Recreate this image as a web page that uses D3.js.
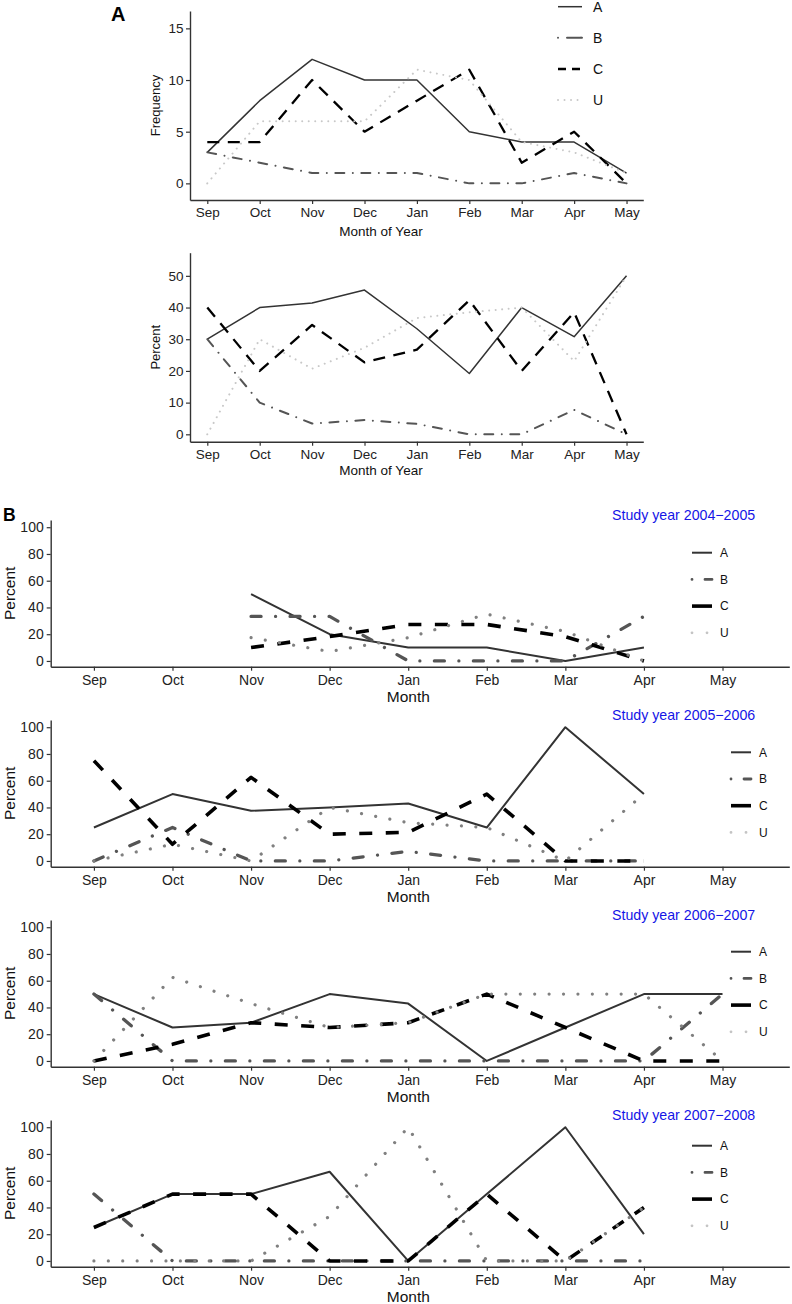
<!DOCTYPE html>
<html><head><meta charset="utf-8">
<script src="https://cdn.jsdelivr.net/npm/d3@7"></script>
<style>body{margin:0;background:#fff}svg{display:block}text{font-family:"Liberation Sans",Arial,sans-serif}</style>
</head><body>
<script>
// ---------- DATA ----------
const months = ["Sep","Oct","Nov","Dec","Jan","Feb","Mar","Apr","May"];
const types = ["A","B","C","U"];

// Panel A, frequency
const freqA = [3,8,12,10,10,5,4,4,1];
const freqB = [3,2,1,1,1,0,0,1,0];
const freqC = [4,4,10,5,8,11,2,5,0];
const freqU = [0,6,6,6,11,10,4,3,1];
// Panel A, percent
const pctA = [30,40,41.4,45.5,33.3,19.2,40,30.8,50];
const pctB = [30,10,3.4,4.5,3.3,0,0,7.7,0];
const pctC = [40,20,34.5,22.7,26.7,42.3,20,38.5,0];
const pctU = [0,30,20.7,27.3,36.7,38.5,40,23.1,50];

// Panel B, by study year (percent)
const studyYears = ["Study year 2004\u22122005","Study year 2005\u22122006","Study year 2006\u22122007","Study year 2007\u22122008"];
const y0405A = [null,null,50,20,10,10,0,10,null];
const y0405B = [null,null,33.3,33.3,0,0,0,33.3,null];
const y0405C = [null,null,10,18.2,27.3,27.3,18.2,0,null];
const y0405U = [null,null,17.4,7,17.4,35,22,0,null];

const y0506A = [25,50,37.5,40,42.9,25,100,50,null];
const y0506B = [0,25,0,0,7.1,0,0,0,null];
const y0506C = [75,12.5,62.5,20,21.4,50,0,0,null];
const y0506U = [0,12.5,0,40,28.6,25,0,50,null];

const y0607A = [50,25,28.6,50,42.9,0,25,50,50];
const y0607B = [50,0,0,0,0,0,0,0,50];
const y0607C = [0,12.5,28.6,25,28.6,50,25,0,0];
const y0607U = [0,62.5,42.9,25,28.6,50,50,50,0];

const y0708A = [25,50,50,66.7,0,50,100,20,null];
const y0708B = [50,0,0,0,0,0,0,0,null];
const y0708C = [25,50,50,0,0,50,0,40,null];
const y0708U = [0,0,0,33.3,100,0,0,40,null];

const freqTicks = [0,5,10,15];
const pctTicks = [0,10,20,30,40,50];
const bTicks = [0,20,40,60,80,100];

// ---------- LAYOUT / STYLE ----------
const W = 792, H = 1304;
const svg = d3.select("body").append("svg").attr("width", W).attr("height", H);

const topStyle = {
  A:{stroke:"#333", w:1.5, dash:null, cap:"butt"},
  B:{stroke:"#555", w:2, dash:"9 8.5 0.01 8.5", cap:"round"},
  C:{stroke:"#000", w:2.3, dash:"12 8.5", cap:"butt"},
  U:{stroke:"#c8c8c8", w:2, dash:"0.01 6.5", cap:"round"}
};
const botStyle = {
  A:{stroke:"#333", w:2, dash:null, cap:"butt"},
  B:{stroke:"#555", w:3.3, dash:"10 14.5 0.01 14.5", cap:"round"},
  C:{stroke:"#000", w:3.6, dash:"13 13.5", cap:"butt"},
  U:{stroke:"#808080", w:3.2, dash:"0.01 14.4", cap:"round"}
};
const botLegendU = "#c4c4c4";

function styleAxis(g, fs){
  g.selectAll("path.domain").attr("stroke","#333").attr("stroke-width",1.4);
  g.selectAll(".tick line").attr("stroke","#333").attr("stroke-width",1.2);
  g.selectAll(".tick text").attr("fill","#222").style("font-size",fs+"px").style("font-family",'"Liberation Sans",Arial,sans-serif');
}
function drawLine(g, x, y, vals, st){
  const line = d3.line().defined(d => d != null).x((d,i)=>x(i)).y(d=>y(d));
  g.append("path").datum(vals).attr("d", line).attr("fill","none")
    .attr("stroke", st.stroke).attr("stroke-width", st.w)
    .attr("stroke-dasharray", st.dash).attr("stroke-linecap", st.cap).attr("stroke-linejoin","round");
}

// ---------- TOP PANELS ----------
function topPanel(yTop, yBot, domain, ticks, series, ylab, xlabY){
  const x = d3.scaleLinear().domain([-0.33, 8.32]).range([190, 643.3]);
  const y = d3.scaleLinear().domain(domain).range([yBot, yTop]);
  const g = svg.append("g");
  series.forEach((vals,k)=> drawLine(g, x, y, vals, topStyle[types[k]]));
  const ya = g.append("g").attr("transform","translate(190,0)")
    .call(d3.axisLeft(y).tickValues(ticks).tickSize(4).tickSizeOuter(0).tickPadding(2.5));
  styleAxis(ya, 13.5);
  const xa = g.append("g").attr("transform",`translate(0,${yBot})`)
    .call(d3.axisBottom(x).tickValues(d3.range(months.length)).tickFormat(i=>months[i]).tickSize(4).tickSizeOuter(0).tickPadding(3.5));
  styleAxis(xa, 13.5);
  g.append("text").attr("x", 381).attr("y", xlabY).attr("text-anchor","middle").style("font-size","13.5px").attr("fill","#111").text("Month of Year");
  g.append("text").attr("transform",`translate(155,${(yTop+yBot)/2}) rotate(-90)`).attr("text-anchor","middle").attr("dominant-baseline","central").style("font-size","13px").attr("fill","#111").text(ylab);
}
topPanel(11, 200, [-1.61, 16.68], freqTicks, [freqA,freqB,freqC,freqU], "Frequency", 236);
topPanel(252.7, 441.7, [-2.33, 57.3], pctTicks, [pctA,pctB,pctC,pctU], "Percent", 475);

// top legend
const tl = svg.append("g");
types.forEach((t,k)=>{
  const yy = [6.7, 37.7, 69, 100][k];
  const st = topStyle[t];
  tl.append("line").attr("x1",558).attr("x2",582).attr("y1",yy).attr("y2",yy)
    .attr("stroke",st.stroke).attr("stroke-width",st.w)
    .attr("stroke-dasharray", t==="B" ? "0.01 9 14" : t==="C" ? "8 6" : t==="U" ? "0.01 6.5" : null)
    .attr("stroke-linecap", st.cap);
  tl.append("text").attr("x",593).attr("y",yy+5).style("font-size","14px").attr("fill","#111").text(t);
});
svg.append("text").attr("x",111).attr("y",21).style("font-size","20px").style("font-weight","bold").attr("fill","#000").text("A");
svg.append("text").attr("x",3).attr("y",520.5).style("font-size","17.5px").style("font-weight","bold").attr("fill","#000").text("B");

// ---------- BOTTOM PANELS ----------
const bSeries = [
  [y0405A,y0405B,y0405C,y0405U],
  [y0506A,y0506B,y0506C,y0506U],
  [y0607A,y0607B,y0607C,y0607U],
  [y0708A,y0708B,y0708C,y0708U]
];
const legX = [692, 731, 731, 692];
const legY = [552.7, 752.3, 951.7, 1145.7];

bSeries.forEach((series, p)=>{
  const off = 200*p;
  const yTop = 520 + off, yBot = 666.7 + off;
  const x = d3.scaleLinear().domain([-0.55, 8.85]).range([50.7, 789.3]);
  const y = d3.scaleLinear().domain([-4.3, 105.4]).range([yBot, yTop]);
  const g = svg.append("g");
  series.forEach((vals,k)=> drawLine(g, x, y, vals, botStyle[types[k]]));
  const ya = g.append("g").attr("transform","translate(50.7,0)")
    .call(d3.axisLeft(y).tickValues(bTicks).tickSize(4).tickSizeOuter(0).tickPadding(3));
  styleAxis(ya, 14);
  const xa = g.append("g").attr("transform",`translate(0,${yBot})`)
    .call(d3.axisBottom(x).tickValues(d3.range(months.length)).tickFormat(i=>months[i]).tickSize(4).tickSizeOuter(0).tickPadding(4.2));
  styleAxis(xa, 14);
  g.append("text").attr("x", 408.3).attr("y", yBot+35).attr("text-anchor","middle").style("font-size","15.5px").attr("fill","#111").text("Month");
  g.append("text").attr("transform",`translate(9,${(yTop+yBot)/2}) rotate(-90)`).attr("text-anchor","middle").attr("dominant-baseline","central").style("font-size","15.5px").attr("fill","#111").text("Percent");
  g.append("text").attr("x", 612).attr("y", 520+off).style("font-size","14.2px").attr("fill","#1515e6").text(studyYears[p]);
  types.forEach((t,k)=>{
    const yy = legY[p] + 26.7*k;
    const st = botStyle[t];
    g.append("line").attr("x1",legX[p]).attr("x2",legX[p]+20).attr("y1",yy).attr("y2",yy)
      .attr("stroke", t==="U" ? botLegendU : st.stroke)
      .attr("stroke-width", t==="A" ? 2 : t==="C" ? 3.6 : 2.8)
      .attr("stroke-dasharray", t==="B" ? "0.01 13 8" : t==="U" ? "0.01 15" : null)
      .attr("stroke-linecap", t==="B"||t==="U" ? "round" : "butt");
    g.append("text").attr("x",legX[p]+28).attr("y",yy+4.3).style("font-size","12px").attr("fill","#111").text(t);
  });
});
</script>
</body></html>
